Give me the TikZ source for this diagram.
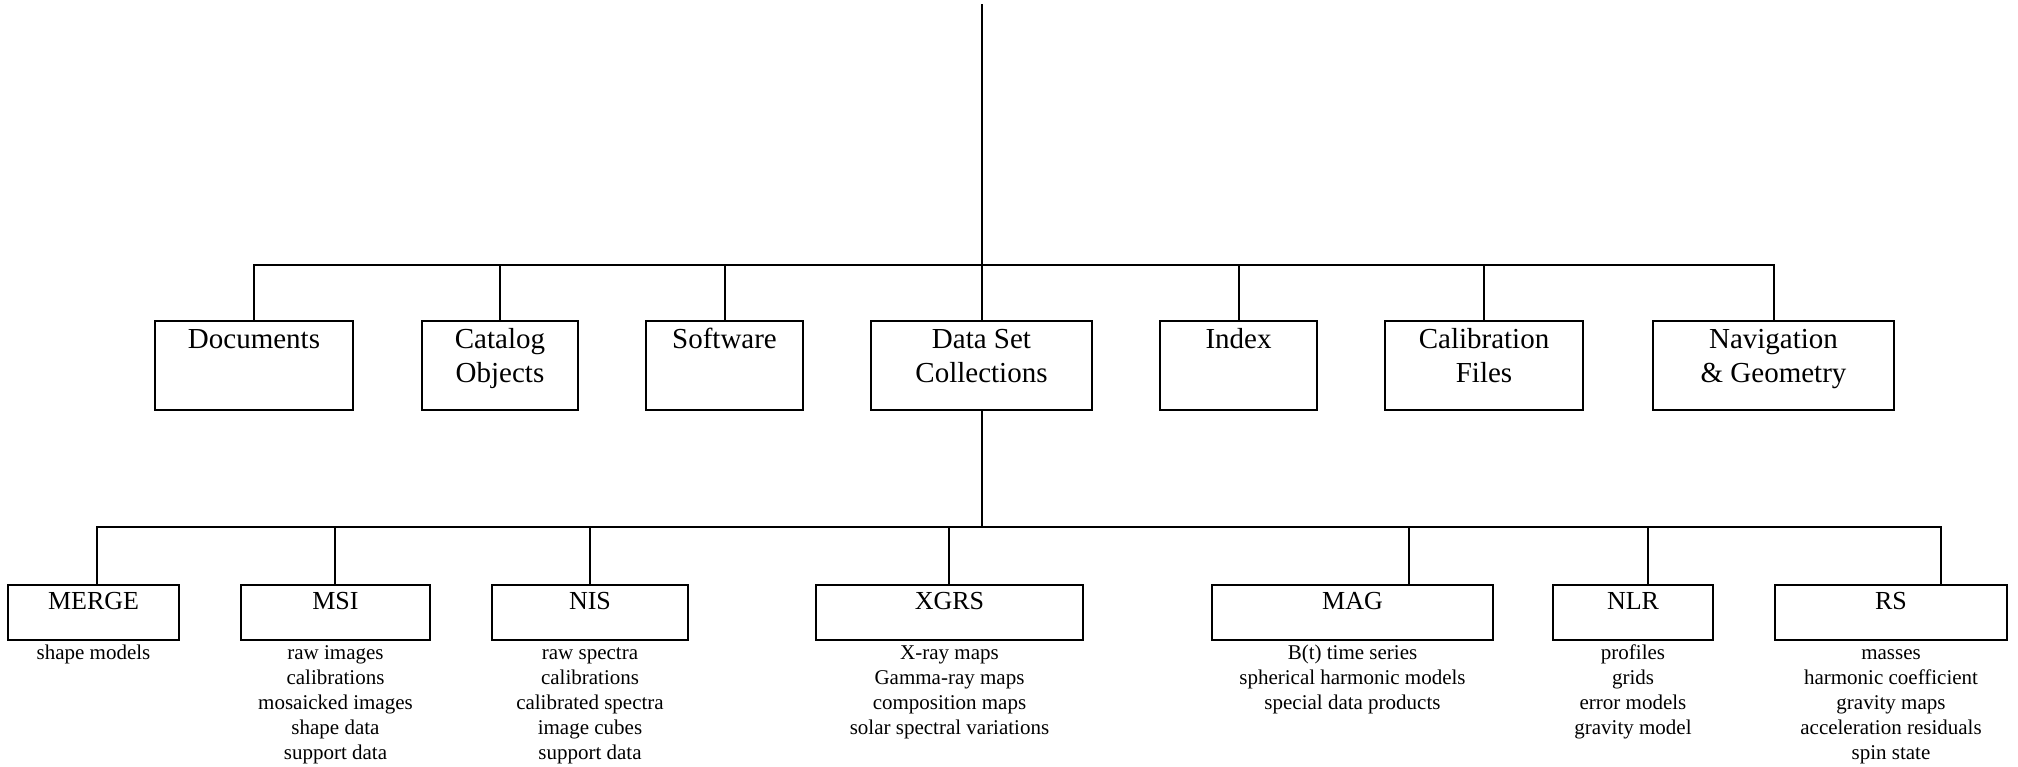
\documentclass[tikz,border=0pt]{standalone}
\usepackage{fontspec}
\setmainfont{Liberation Serif}
\begin{document}
\begin{tikzpicture}[x=0.5pt,y=-0.5pt]
\tikzset{
  conn/.style={line width=1pt},
  boxT/.style={draw, line width=1pt, inner sep=0pt, outer sep=0pt, anchor=north west, minimum height=44.5pt},
  boxL/.style={draw, line width=1pt, inner sep=0pt, outer sep=0pt, anchor=north west, minimum height=27.5pt},
  topL/.style={inner sep=0pt, outer sep=0pt, anchor=north, align=center, font=\fontsize{14.5}{16.75}\selectfont},
  lowL/.style={inner sep=0pt, outer sep=0pt, anchor=north, align=center, font=\fontsize{13}{15.6}\selectfont},
  subL/.style={inner sep=0pt, outer sep=0pt, anchor=north, align=center, font=\fontsize{10.5}{12.5}\selectfont},
}
\useasboundingbox (0,0) rectangle (2018,766);

% top row boxes
\node[boxT, minimum width=99pt]   (doc)  at (155,321)  {};
\node[boxT, minimum width=78pt]   (cat)  at (422,321)  {};
\node[boxT, minimum width=78.5pt] (soft) at (646,321)  {};
\node[boxT, minimum width=110.5pt](ds)   at (871,321)  {};
\node[boxT, minimum width=78.5pt] (idx)  at (1160,321) {};
\node[boxT, minimum width=99pt]   (cal)  at (1385,321) {};
\node[boxT, minimum width=120.5pt](nav)  at (1653,321) {};

\node[topL] (docT)  at ([yshift=-2.25pt]doc.north)  {\strut Documents};
\node[topL] (catT)  at ([yshift=-2.25pt]cat.north)  {\strut Catalog\\Objects};
\node[topL] (softT) at ([yshift=-2.25pt]soft.north) {\strut Software};
\node[topL] (dsT)   at ([yshift=-2.25pt]ds.north)   {\strut Data Set\\Collections};
\node[topL] (idxT)  at ([yshift=-2.25pt]idx.north)  {\strut Index};
\node[topL] (calT)  at ([yshift=-2.25pt]cal.north)  {\strut Calibration\\Files};
\node[topL] (navT)  at ([yshift=-2.25pt]nav.north)  {\strut Navigation\\\& Geometry};

% top connectors
\coordinate (root) at (982,4);
\coordinate (tbar) at (982,265);
\draw[conn] (root) -- (root |- tbar);
\draw[conn] (doc.north) -- (doc.north |- tbar) -- (nav.north |- tbar) -- (nav.north);
\foreach \n in {cat,soft,ds,idx,cal}{
  \draw[conn] (\n.north) -- (\n.north |- tbar);
}

% lower row boxes
\node[boxL, minimum width=85.5pt]  (merge) at (8,585)    {};
\node[boxL, minimum width=94.5pt]  (msi)   at (241,585)  {};
\node[boxL, minimum width=98pt]    (nis)   at (492,585)  {};
\node[boxL, minimum width=133.5pt] (xgrs)  at (816,585)  {};
\node[boxL, minimum width=140.5pt] (mag)   at (1212,585) {};
\node[boxL, minimum width=80pt]    (nlr)   at (1553,585) {};
\node[boxL, minimum width=116pt]   (rs)    at (1775,585) {};

\node[lowL] (mergeT) at ([yshift=-1.4pt]merge.north) {\strut MERGE};
\node[lowL] (msiT)   at ([yshift=-1.4pt]msi.north)   {\strut MSI};
\node[lowL] (nisT)   at ([yshift=-1.4pt]nis.north)   {\strut NIS};
\node[lowL] (xgrsT)  at ([yshift=-1.4pt]xgrs.north)  {\strut XGRS};
\node[lowL] (magT)   at ([yshift=-1.4pt]mag.north)   {\strut MAG};
\node[lowL] (nlrT)   at ([yshift=-1.4pt]nlr.north)   {\strut NLR};
\node[lowL] (rsT)    at ([yshift=-1.4pt]rs.north)    {\strut RS};

% sub texts
\node[subL] (mergeD) at ([yshift=-0.75pt]merge.south) {\strut shape models};
\node[subL] (msiD)   at ([yshift=-0.75pt]msi.south)   {\strut raw images\\calibrations\\mosaicked images\\shape data\\support data};
\node[subL] (nisD)   at ([yshift=-0.75pt]nis.south)   {\strut raw spectra\\calibrations\\calibrated spectra\\image cubes\\support data};
\node[subL] (xgrsD)  at ([yshift=-0.75pt]xgrs.south)  {\strut X-ray maps\\Gamma-ray maps\\composition maps\\solar spectral variations};
\node[subL] (magD)   at ([yshift=-0.75pt]mag.south)   {\strut B(t) time series\\spherical harmonic models\\special data products};
\node[subL] (nlrD)   at ([yshift=-0.75pt]nlr.south)   {\strut profiles\\grids\\error models\\gravity model};
\node[subL] (rsD)    at ([yshift=-0.75pt]rs.south)    {\strut masses\\harmonic coefficient\\gravity maps\\acceleration residuals\\spin state};

% lower connectors
\coordinate (lbar)   at (982,527);
\coordinate (mergeS) at (96.7,585);
\coordinate (msiS)   at (335,585);
\coordinate (nisS)   at (590,585);
\coordinate (xgrsS)  at (949,585);
\coordinate (magS)   at (1409,585);
\coordinate (nlrS)   at (1648,585);
\coordinate (rsS)    at (1941,585);
\draw[conn] (ds.south) -- (ds.south |- lbar);
\draw[conn] (mergeS) -- (mergeS |- lbar) -- (rsS |- lbar) -- (rsS);
\foreach \n in {msiS,nisS,xgrsS,magS,nlrS}{
  \draw[conn] (\n) -- (\n |- lbar);
}
\end{tikzpicture}
\end{document}
